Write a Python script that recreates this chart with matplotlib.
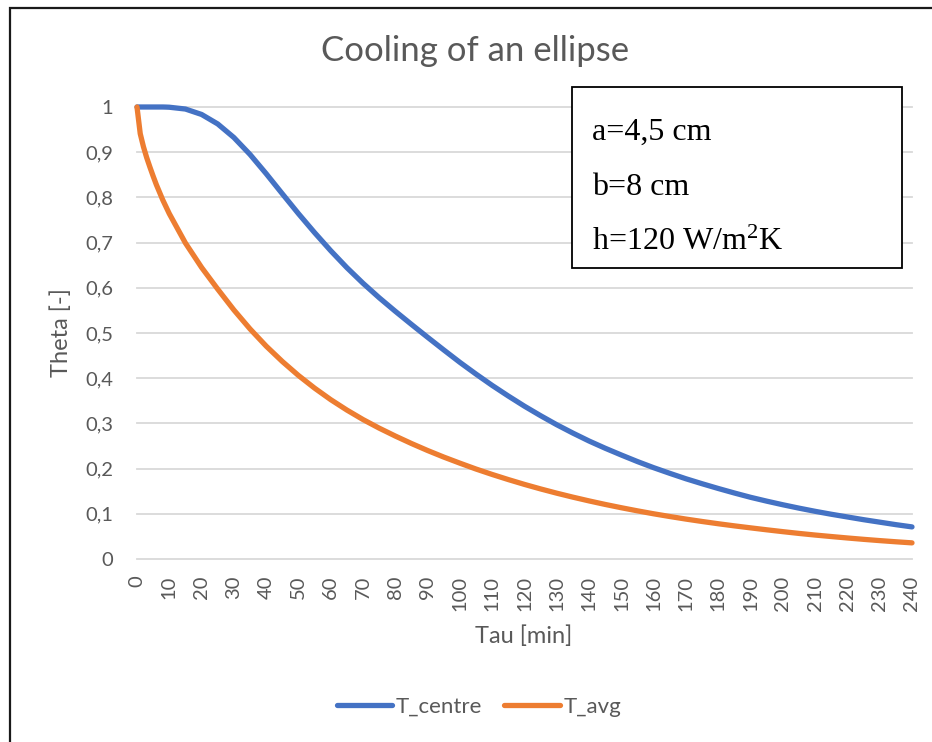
import numpy as np
import matplotlib
matplotlib.use("Agg")
import matplotlib.pyplot as plt
from matplotlib.patches import Rectangle

# time in minutes, finer steps where T_avg falls steeply at the start
tau = [0, 1, 2, 3, 4, 5, 6, 7, 8, 9, 10,
       15, 20, 25, 30, 35, 40, 45, 50, 55, 60, 65, 70, 75, 80, 85, 90, 95,
       100, 105, 110, 115, 120, 125, 130, 135, 140, 145, 150, 155, 160, 165,
       170, 175, 180, 185, 190, 195, 200, 205, 210, 215, 220, 225, 230, 235, 240]

t_centre = [1.000, 1.000, 1.000, 1.000, 1.000, 1.000, 1.000, 1.000, 1.000, 0.9998, 0.9995,
            0.9955, 0.9835, 0.9625, 0.9325, 0.895, 0.8525, 0.808, 0.764, 0.722, 0.682,
            0.6445, 0.610, 0.578, 0.548, 0.519, 0.4905, 0.4625, 0.435, 0.409, 0.384,
            0.3605, 0.338, 0.317, 0.297, 0.2785, 0.261, 0.245, 0.230, 0.2155, 0.202,
            0.1895, 0.1775, 0.1665, 0.156, 0.146, 0.1365, 0.128, 0.120, 0.1125, 0.1055,
            0.099, 0.093, 0.087, 0.0815, 0.076, 0.071]

t_avg = [1.000, 0.941, 0.912, 0.888, 0.867, 0.847, 0.828, 0.811, 0.794, 0.779, 0.764,
         0.699, 0.645, 0.597, 0.551, 0.509, 0.471, 0.437, 0.406, 0.378, 0.3525, 0.3295,
         0.3085, 0.2895, 0.272, 0.2555, 0.240, 0.2255, 0.212, 0.199, 0.187, 0.1757,
         0.165, 0.155, 0.1456, 0.1368, 0.1285, 0.1207, 0.1134, 0.1065, 0.100, 0.094,
         0.0883, 0.083, 0.078, 0.0733, 0.0689, 0.0646, 0.0605, 0.0566, 0.053, 0.0497,
         0.0465, 0.0435, 0.0407, 0.0381, 0.0357]

x_ticks = list(range(0, 241, 10))
y_ticks = [0, 0.1, 0.2, 0.3, 0.4, 0.5, 0.6, 0.7, 0.8, 0.9, 1]
y_labels = ["0", "0,1", "0,2", "0,3", "0,4", "0,5", "0,6", "0,7", "0,8", "0,9", "1"]
params = ["a=4,5 cm", "b=8 cm", r"h=120 W/m$^\mathrm{2}$K"]

plt.rcParams["font.family"] = ["Lato", "DejaVu Sans"]
plt.rcParams["mathtext.fontset"] = "custom"
plt.rcParams["mathtext.rm"] = "Liberation Serif"
plt.rcParams["mathtext.it"] = "Liberation Serif:italic"
grey = "#595959"

W, H = 932, 742
fig = plt.figure(figsize=(W / 100, H / 100), dpi=100)

# chart area frame (runs off the right and bottom edges)
fig.patches.append(Rectangle((9.5 / W, -0.1), 1.2, 1 - 7.5 / H + 0.1,
                             transform=fig.transFigure, fill=False,
                             edgecolor="#1a1a1a", linewidth=1.6))

ax = fig.add_axes([137 / W, 1 - 559 / H, 775 / W, 452 / H])
ax.set_xlim(0, 240)
ax.set_ylim(0, 1)
for s in ax.spines.values():
    s.set_visible(False)

for y in y_ticks:
    ax.axhline(y, color="#d9d9d9", linewidth=1.3, zorder=1, clip_on=False)

ax.plot(tau, t_centre, color="#4472c4", linewidth=3.8, solid_capstyle="round",
        solid_joinstyle="round", label="T_centre", zorder=3, clip_on=False)
ax.plot(tau, t_avg, color="#ed7d31", linewidth=3.8, solid_capstyle="round",
        solid_joinstyle="round", label="T_avg", zorder=3, clip_on=False)

ax.set_yticks(y_ticks)
ax.set_yticklabels(y_labels)
ax.set_xticks(x_ticks)
ax.set_xticklabels([str(v) for v in x_ticks], rotation=90)
ax.tick_params(axis="both", length=0, labelsize=14.5, labelcolor=grey)
ax.tick_params(axis="y", pad=17)
ax.tick_params(axis="x", pad=12)

fig.text(475 / W, 1 - 51 / H, "Cooling of an ellipse", ha="center", va="center",
         fontsize=25, color=grey)
fig.text(524 / W, 1 - 636 / H, "Tau [min]", ha="center", va="center",
         fontsize=17, color=grey)
fig.text(61 / W, 1 - 333 / H, "Theta [-]", ha="center", va="center",
         rotation=90, fontsize=17, color=grey)

# parameter box
fig.patches.append(Rectangle((572 / W, 1 - 268 / H), 330 / W, 181 / H,
                             transform=fig.transFigure, facecolor="white",
                             edgecolor="black", linewidth=1.3, zorder=5))
for i, txt in enumerate(params):
    fig.text(592 / W, 1 - (140 + 55 * i) / H, txt, ha="left", va="baseline",
             fontsize=23, family="Liberation Serif", color="black", zorder=6)

fig.legend(loc="center", bbox_to_anchor=(479 / W, 1 - 707 / H), ncol=2,
           frameon=False, fontsize=16, labelcolor=grey, handlelength=2.5,
           handletextpad=0.15, columnspacing=1.0)

fig.savefig("out.png", dpi=100, facecolor="white")
